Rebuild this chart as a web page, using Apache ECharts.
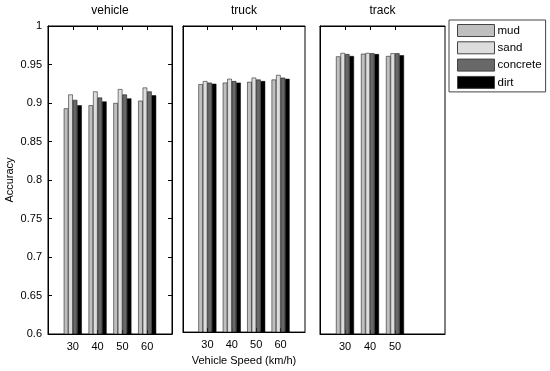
<!DOCTYPE html>
<html>
<head>
<meta charset="utf-8">
<script src="https://cdn.jsdelivr.net/npm/echarts@6/dist/echarts.min.js"></script>
<style>html,body{margin:0;padding:0;background:#fff}#c{width:550px;height:371px}</style>
</head>
<body>
<div id="c"></div>
<script>
// ---- data ----
const panelNames = ['vehicle', 'truck', 'track'];
const surfaces = ['mud', 'sand', 'concrete', 'dirt'];
const speedsVehicle = ['30', '40', '50', '60'];
const speedsTruck = ['30', '40', '50', '60'];
const speedsTrack = ['30', '40', '50'];
const vehicleMud = [0.893, 0.897, 0.900, 0.903];
const vehicleSand = [0.911, 0.915, 0.918, 0.920];
const vehicleConcrete = [0.904, 0.907, 0.911, 0.915];
const vehicleDirt = [0.897, 0.902, 0.906, 0.910];
const truckMud = [0.924, 0.926, 0.927, 0.930];
const truckSand = [0.928, 0.931, 0.9325, 0.936];
const truckConcrete = [0.926, 0.928, 0.930, 0.9325];
const truckDirt = [0.9245, 0.926, 0.928, 0.931];
const trackMud = [0.9605, 0.964, 0.961];
const trackSand = [0.965, 0.965, 0.9645];
const trackConcrete = [0.9635, 0.9645, 0.9645];
const trackDirt = [0.961, 0.9635, 0.962];
const yTickStep = 0.05;

// ---- build ----
const colors = {mud: '#bfbfbf', sand: '#dddddd', concrete: '#686868', dirt: '#000000'};
const panels = [
  {speeds: speedsVehicle, vals: [vehicleMud, vehicleSand, vehicleConcrete, vehicleDirt]},
  {speeds: speedsTruck, vals: [truckMud, truckSand, truckConcrete, truckDirt]},
  {speeds: speedsTrack, vals: [trackMud, trackSand, trackConcrete, trackDirt]}
];
const gridPos = [{left: 48, width: 124}, {left: 183, width: 122}, {left: 320, width: 125}];
const FONT = 'Liberation Sans';
const grids = [], xAxes = [], yAxes = [], series = [];
const axisLine = {show: true, onZero: false, lineStyle: {color: '#000', width: 1}};
panels.forEach((p, i) => {
  grids.push({left: gridPos[i].left, width: gridPos[i].width, top: 20, height: 314,
    show: true, borderColor: '#000', borderWidth: 1, backgroundColor: '#fff'});
  const pos = p.speeds.map((s, k) => k + 1);
  xAxes.push({type: 'value', gridIndex: i, min: 0, max: 5, interval: 1, position: 'bottom',
    axisLine: axisLine, splitLine: {show: false},
    axisTick: {show: true, inside: true, length: 4, customValues: pos, lineStyle: {color: '#000'}},
    axisLabel: {customValues: pos, formatter: v => p.speeds[Math.round(v) - 1] || '',
      color: '#000', fontFamily: FONT, fontSize: 11, margin: 7},
    name: i === 1 ? 'Vehicle Speed (km/h)' : '', nameLocation: 'middle', nameGap: 21,
    nameTextStyle: {color: '#000', fontFamily: FONT, fontSize: 11}
  });
  xAxes.push({type: 'value', gridIndex: i, min: 0, max: 5, interval: 1, position: 'top',
    axisLine: axisLine, splitLine: {show: false},
    axisTick: {show: true, inside: true, length: 4, customValues: pos, lineStyle: {color: '#000'}},
    axisLabel: {show: false},
    name: panelNames[i], nameLocation: 'middle', nameGap: 9,
    nameTextStyle: {color: '#000', fontFamily: FONT, fontSize: 12}
  });
  yAxes.push({type: 'value', gridIndex: i, min: 0.6, max: 1, interval: yTickStep, position: 'left',
    axisLine: axisLine, splitLine: {show: false},
    axisTick: {show: i === 0, inside: true, length: 4, lineStyle: {color: '#000'}},
    axisLabel: {show: i === 0, color: '#000', fontFamily: FONT, fontSize: 11, margin: 6},
    name: i === 0 ? 'Accuracy' : '', nameLocation: 'middle', nameGap: 33, nameRotate: 90,
    nameTextStyle: {color: '#000', fontFamily: FONT, fontSize: 11}
  });
  if (i === 0) {
    yAxes.push({type: 'value', gridIndex: i, min: 0.6, max: 1, interval: yTickStep, position: 'right',
      axisLine: axisLine, splitLine: {show: false},
      axisTick: {show: true, inside: true, length: 4, lineStyle: {color: '#000'}},
      axisLabel: {show: false}
    });
  }
});
const xIdx = [0, 2, 4];
const yIdx = [0, 2, 3];
panels.forEach((p, i) => {
  surfaces.forEach((s, j) => {
    series.push({type: 'bar', name: s, xAxisIndex: xIdx[i], yAxisIndex: yIdx[i],
      data: p.vals[j].map((v, k) => [k + 1, v]),
      barWidth: 4.5, barGap: '0%',
      itemStyle: {color: colors[s], borderColor: '#000', borderWidth: 0.5},
      emphasis: {disabled: true}, animation: false
    });
  });
});
const chart = echarts.init(document.getElementById('c'), null, {renderer: 'canvas'});
chart.setOption({
  animation: false,
  backgroundColor: '#fff',
  grid: grids, xAxis: xAxes, yAxis: yAxes, series: series,
  legend: {data: surfaces, orient: 'vertical', left: 449, top: 20, icon: 'rect',
    itemWidth: 37, itemHeight: 12, itemGap: 4.3, padding: [4, 4, 3, 8],
    borderColor: '#444', borderWidth: 1, backgroundColor: '#fff',
    itemStyle: {borderColor: '#444', borderWidth: 1},
    textStyle: {color: '#000', fontFamily: FONT, fontSize: 11.5, lineHeight: 12, padding: [0, 0, 0, -2]},
    selectedMode: false}
});
</script>
</body>
</html>
